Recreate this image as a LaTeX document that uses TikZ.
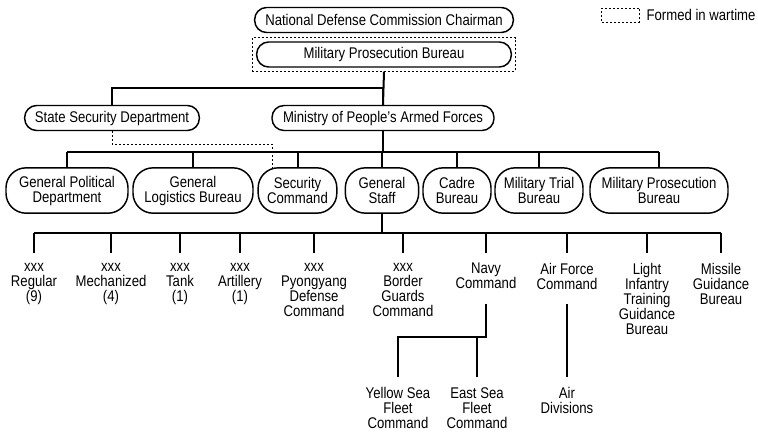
\documentclass[tikz,border=0pt]{standalone}
\usepackage{fontspec}
\setmainfont{Liberation Sans}[FakeStretch=0.85]
\usepackage{tikz}
\usetikzlibrary{fit}

\begin{document}
\begin{tikzpicture}[x=0.75pt,y=-0.75pt]
			\tikzset{box/.style={shape = rectangle, draw, line width = 1.1pt, rounded corners = 9pt, align = center, inner sep = 1pt, minimum height = 18.75pt, font = \fontsize{11.6}{11.25}\selectfont}}
			\tikzset{tallbox/.style={box, rounded corners = 15pt, minimum height = 34pt}}
			\tikzset{unit/.style={anchor = north, align = center, inner xsep = 1pt, inner ysep = 7.5pt, font = \fontsize{11.6}{11.25}\selectfont, execute at begin node = \strut}}
			\tikzset{link/.style={line width = 1.5pt}}
			\tikzset{wartime/.style={line width = 0.75pt, dash pattern = on 1.5pt off 1.5pt}}
			\useasboundingbox (0, 0) rectangle (758, 433);
			%legend
			\node[draw, wartime, minimum width = 28pt, minimum height = 10.5pt, inner sep = 0pt] (key) at (620.5, 15) {};
			\node[anchor = west, inner sep = 1pt, font = \fontsize{11.6}{11.25}\selectfont] (keytext) at (645, 15) {Formed in wartime};
			%top
			\node[box, minimum width = 194pt] (ndc) at (384, 20) {National Defense Commission Chairman};
			\node[box, minimum width = 191pt] (mpb) at (384, 54.5) {Military Prosecution Bureau};
			\node[draw, wartime, fit = (mpb), inner sep = 2.6pt] (wt) {};
			\node[box, minimum width = 131pt] (ssd) at (112, 118) {State Security Department};
			\node[box, minimum width = 166.5pt] (mpaf) at (383, 118) {Ministry of People's Armed Forces};
			%second row
			\node[tallbox, minimum width = 91.5pt] (gpd) at (67, 190.5) {General Political\\Department};
			\node[tallbox, minimum width = 90pt] (glb) at (193, 190.5) {General\\Logistics Bureau};
			\node[tallbox, minimum width = 59pt] (sc) at (297.5, 190.5) {Security\\Command};
			\node[tallbox, minimum width = 55pt] (gs) at (382, 190.5) {General\\Staff};
			\node[tallbox, minimum width = 51pt] (cadre) at (457, 190.5) {Cadre\\Bureau};
			\node[tallbox, minimum width = 66pt] (mtb) at (539, 190.5) {Military Trial\\Bureau};
			\node[tallbox, minimum width = 103.5pt] (mpbb) at (659, 190.5) {Military Prosecution\\Bureau};
			%units
			\node[unit] (regular) at (34, 253) {xxx\\Regular\\(9)};
			\node[unit] (mech) at (111, 253) {xxx\\Mechanized\\(4)};
			\node[unit] (tank) at (180, 253) {xxx\\Tank\\(1)};
			\node[unit] (arty) at (240, 253) {xxx\\Artillery\\(1)};
			\node[unit] (pdc) at (314, 253) {xxx\\Pyongyang\\Defense\\Command};
			\node[unit] (border) at (403, 253) {xxx\\Border\\Guards\\Command};
			\node[unit] (navy) at (486, 253) {Navy\\Command};
			\node[unit] (airforce) at (567, 253) {Air Force\\Command};
			\node[unit] (lightinf) at (647, 253) {Light\\Infantry\\Training\\Guidance\\Bureau};
			\node[unit] (missile) at (721, 253) {Missile\\Guidance\\Bureau};
			\node[unit] (yellow) at (398, 377) {Yellow Sea\\Fleet\\Command};
			\node[unit] (east) at (477, 377) {East Sea\\Fleet\\Command};
			\node[unit] (airdiv) at (567, 377) {Air\\Divisions};
			%buses
			\coordinate (mbus) at (383, 152);
			\coordinate (gsbus) at (382, 233);
			\coordinate (navybus) at (486, 337);
			%edges
			\draw[link] (wt.south) -- (mpaf.north);
			\draw[link] (ssd.north) -- ++(0, -17) -| (mpaf.north);
			\draw[link] (mpaf.south) -- (mbus);
			\draw[link] (gpd.north |- mbus) -- (mpbb.north |- mbus);
			\foreach \n in {gpd, glb, sc, gs, cadre, mtb, mpbb}
				\draw[link] (\n.north) -- (\n.north |- mbus);
			\draw[wartime] (ssd.south) -- ++(0, 13) -| ([xshift = -19pt]sc.north);
			\draw[link] (gs.south) -- (gsbus);
			\draw[link] (regular.north |- gsbus) -- (missile.north |- gsbus);
			\foreach \n in {regular, mech, tank, arty, pdc, border, navy, airforce, lightinf, missile}
				\draw[link] (\n.north) -- (\n.north |- gsbus);
			\draw[link] (navy.south) -- (navybus) -| (yellow.north);
			\draw[link] (east.north) -- (east.north |- navybus);
			\draw[link] (airforce.south) -- (airdiv.north);
\end{tikzpicture}
\end{document}
